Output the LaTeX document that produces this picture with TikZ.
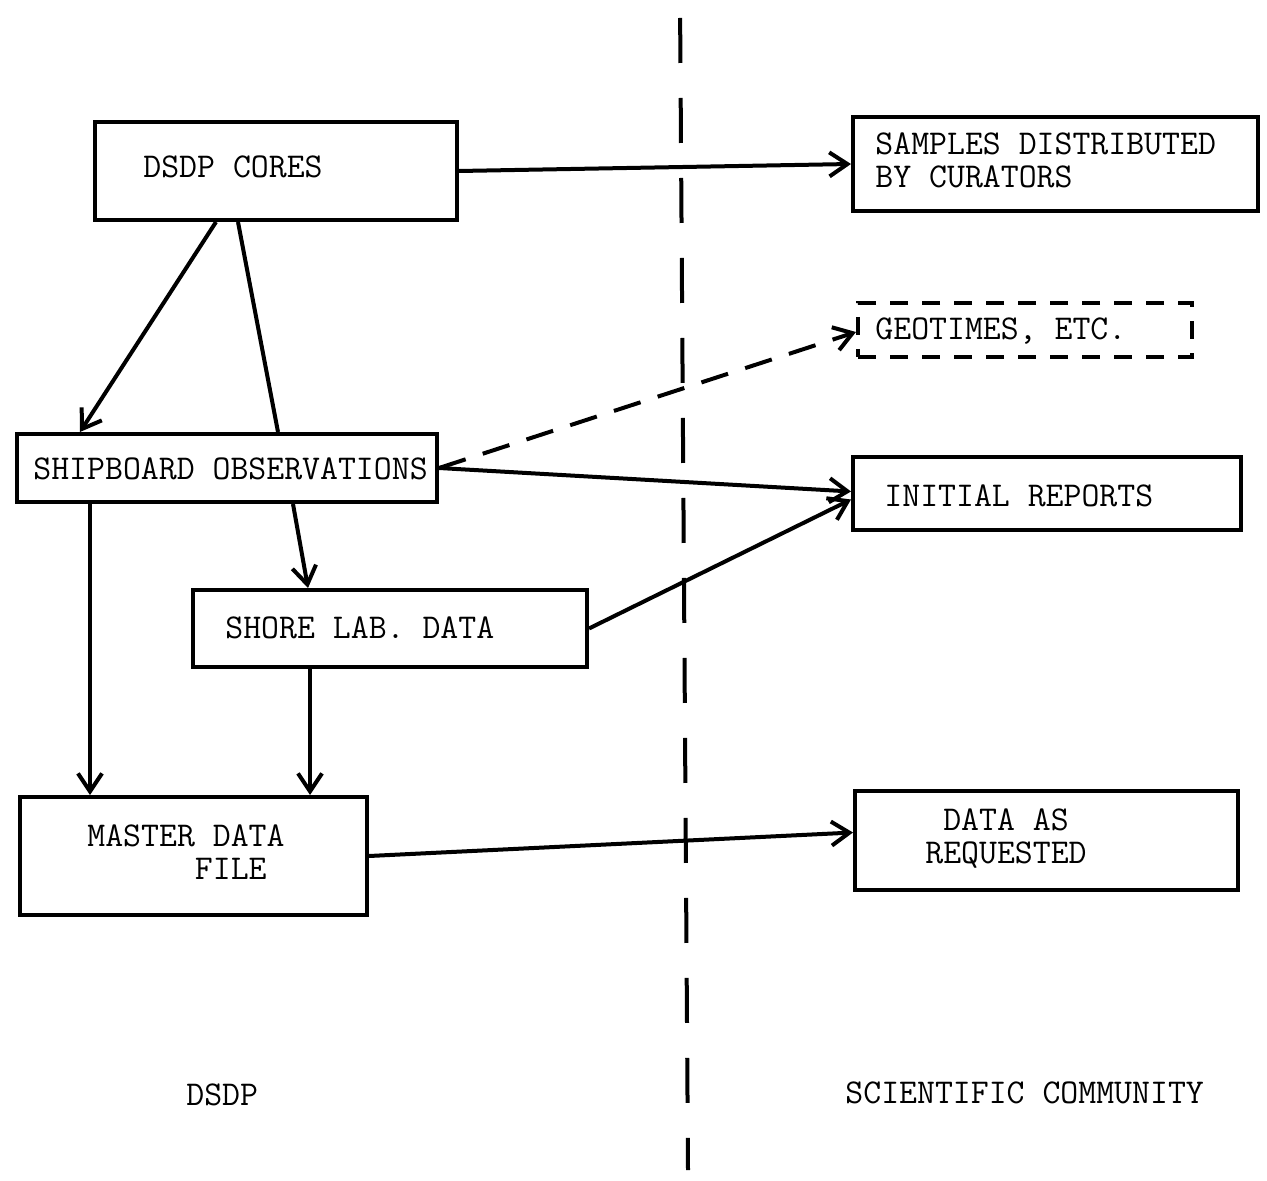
\documentclass[tikz,border=0pt]{standalone}
\usetikzlibrary{arrows.meta}
\begin{document}
\begin{tikzpicture}[x=0.5pt,y=-0.5pt,
  box/.style={draw,line width=2pt,inner sep=0pt},
  dbox/.style={box,dash pattern=on 9pt off 7pt},
  lbl/.style={font=\ttfamily\fontsize{17.4}{16.5}\selectfont,inner sep=0pt,anchor=west,align=left},
  conn/.style={line width=2pt,-{Straight Barb[length=9pt,width=12pt,line width=2pt]}},
  plainline/.style={line width=2pt},
  dconn/.style={conn,dash pattern=on 14pt off 9pt},
  divider/.style={line width=2pt,dash pattern=on 22.5pt off 17.5pt,dash phase=31pt}]
\useasboundingbox (0,0) rectangle (1267,1181);
% boxes
\node[box,minimum width=181pt,minimum height=49pt] (cores) at (276,171) {};
\node[box,minimum width=202.5pt,minimum height=47pt] (samples) at (1055.5,164) {};
\node[dbox,minimum width=167pt,minimum height=27pt] (geo) at (1025,330) {};
\node[box,minimum width=210pt,minimum height=34pt] (ship) at (227,468) {};
\node[box,minimum width=194pt,minimum height=36.5pt] (initial) at (1047,493.5) {};
\node[box,minimum width=197pt,minimum height=38.5pt] (shore) at (390,628.5) {};
\node[box,minimum width=173.5pt,minimum height=59pt] (master) at (193.5,856) {};
\node[box,minimum width=191.5pt,minimum height=49.5pt] (data) at (1046.5,840.5) {};
% texts
\node[lbl] (tcores) at (143,167) {DSDP CORES};
\node[lbl] (tsamples) at (875,160) {SAMPLES DISTRIBUTED\\BY CURATORS};
\node[lbl] (tgeo) at (875,331) {GEOTIMES, ETC.};
\node[lbl] (tship) at (33,469) {SHIPBOARD OBSERVATIONS};
\node[lbl] (tinitial) at (884,496) {INITIAL REPORTS};
\node[lbl] (tshore) at (225,628) {SHORE LAB. DATA};
\node[lbl] (tmaster) at (87,852) {MASTER DATA\\\phantom{MASTER}FILE};
\node[lbl,anchor=center,align=center] (tdata) at (1006,839) {DATA AS\\REQUESTED};
\node[lbl] (tdsdp) at (186,1095) {DSDP};
\node[lbl] (tsci) at (845,1093) {SCIENTIFIC COMMUNITY};
% divider
\coordinate (dtop) at (680,0);
\coordinate (dbot) at (688,1170);
\draw[divider] (dtop) -- (dbot);
% connectors
\draw[conn] (cores.east) -- (samples.west);
\draw[conn] ([xshift=61.5pt]cores.south west) -- ([xshift=32.5pt]ship.north west);
\draw[plainline] ([xshift=72.5pt]cores.south west) -- ([xshift=131.5pt]ship.north west);
\draw[conn] ([xshift=139pt]ship.south west) -- ([xshift=58.5pt]shore.north west);
\draw[conn] (ship.east) -- ([yshift=1pt]initial.west);
\draw[dconn] (ship.east) -- ([yshift=-1pt]geo.west);
\draw[conn] (shore.east) -- ([yshift=-3pt]initial.west);
\draw[conn] ([xshift=37.5pt]ship.south west) -- ([xshift=36pt]master.north west);
\draw[conn] ([xshift=59.5pt]shore.south west) -- ([xshift=146pt]master.north west);
\draw[conn] (master.east) -- ([yshift=4pt]data.west);
\end{tikzpicture}
\end{document}
